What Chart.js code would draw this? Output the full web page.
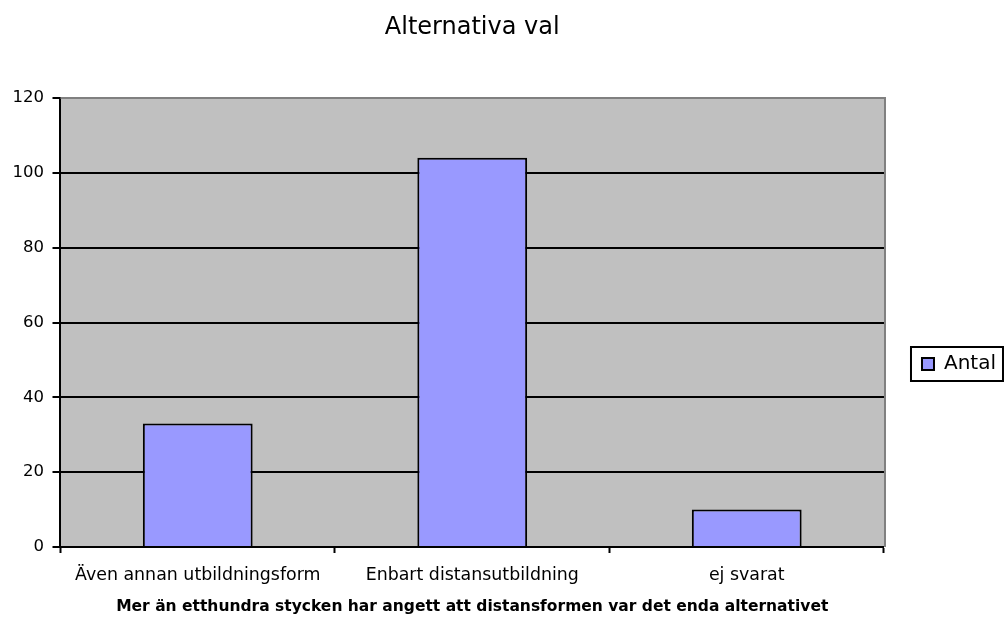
<!DOCTYPE html>
<html>
<head>
<meta charset="utf-8">
<script src="https://cdn.jsdelivr.net/npm/chart.js@4/dist/chart.umd.min.js"></script>
<style>
  html, body { margin: 0; padding: 0; background: #fff; }
</style>
</head>
<body>
<canvas id="myChart" width="1007" height="618"></canvas>
<script>
const categories = ['Även annan utbildningsform', 'Enbart distansutbildning', 'ej svarat']
const antal = [33, 104, 10]
const yMin = 0
const yMax = 120
const yStep = 20

const fontFamily = '"DejaVu Sans", sans-serif'

// grey plot area + grey top/right frame like the original sheet chart
const plotArea = {
    id: 'plotArea',
    beforeDraw(chart) {
        const { ctx, chartArea: a } = chart
        ctx.save()
        ctx.fillStyle = '#c0c0c0'
        ctx.fillRect(a.left, a.top, a.right - a.left, a.bottom - a.top)
        ctx.restore()
    },
    afterLayout(chart) {
        // push the legend down a bit, it sits below the middle in the original
        const lg = chart.legend
        lg.top += 55
        lg.bottom += 55
    },
    afterDraw(chart) {
        const { ctx, chartArea: a } = chart
        ctx.save()
        ctx.strokeStyle = '#808080'
        ctx.lineWidth = 2
        ctx.beginPath()
        ctx.moveTo(a.left, a.top)
        ctx.lineTo(a.right + 1, a.top)
        ctx.lineTo(a.right + 1, a.bottom)
        ctx.stroke()

        // frame around the legend
        const hb = chart.legend.legendHitBoxes[0]
        if (hb) {
            const cy = hb.top + hb.height / 2
            ctx.strokeStyle = '#000'
            ctx.lineWidth = 2
            ctx.strokeRect(hb.left - 11, cy - 17, 92, 34)
        }
        ctx.restore()
    }
}

const ctx = document.getElementById('myChart').getContext('2d')

const myChart = new Chart(ctx, {
    type: 'bar',
    data: {
        labels: categories,
        datasets: [{
            label: 'Antal',
            data: antal,
            backgroundColor: '#9999ff',
            borderColor: '#000000',
            borderWidth: 2,
            categoryPercentage: 1,
            barPercentage: 0.4
        }]
    },
    options: {
        responsive: false,
        animation: false,
        layout: {
            padding: { left: 4, right: 1, top: 0, bottom: 0 }
        },
        scales: {
            x: {
                grid: {
                    offset: true,
                    drawOnChartArea: false,
                    drawTicks: true,
                    tickLength: 6,
                    tickColor: '#000',
                    tickWidth: 2
                },
                border: { color: '#000', width: 2 },
                ticks: {
                    color: '#000',
                    padding: 12,
                    maxRotation: 0,
                    font: { family: fontFamily, size: 17.4 }
                },
                title: {
                    display: true,
                    text: 'Mer än etthundra stycken har angett att distansformen var det enda alternativet',
                    color: '#000',
                    font: { family: fontFamily, size: 15.5, weight: 'bold' },
                    padding: { top: 0, bottom: 1.5 }
                }
            },
            y: {
                min: yMin,
                max: yMax,
                grid: {
                    color: '#000',
                    lineWidth: 2,
                    tickLength: 8,
                    tickColor: '#000',
                    tickWidth: 2
                },
                border: { color: '#000', width: 2 },
                ticks: {
                    stepSize: yStep,
                    color: '#000',
                    padding: 8.5,
                    font: { family: fontFamily, size: 16.5 }
                }
            }
        },
        plugins: {
            title: {
                display: true,
                text: 'Alternativa val',
                color: '#000',
                fullSize: false,
                font: { family: fontFamily, size: 24, weight: 'normal' },
                padding: { top: 13, bottom: 56.2 }
            },
            legend: {
                position: 'right',
                align: 'center',
                labels: {
                    color: '#000',
                    boxWidth: 12,
                    boxHeight: 12,
                    padding: 38,
                    font: { family: fontFamily, size: 20 }
                }
            },
            tooltip: { enabled: false }
        }
    },
    plugins: [plotArea]
})
</script>
</body>
</html>
